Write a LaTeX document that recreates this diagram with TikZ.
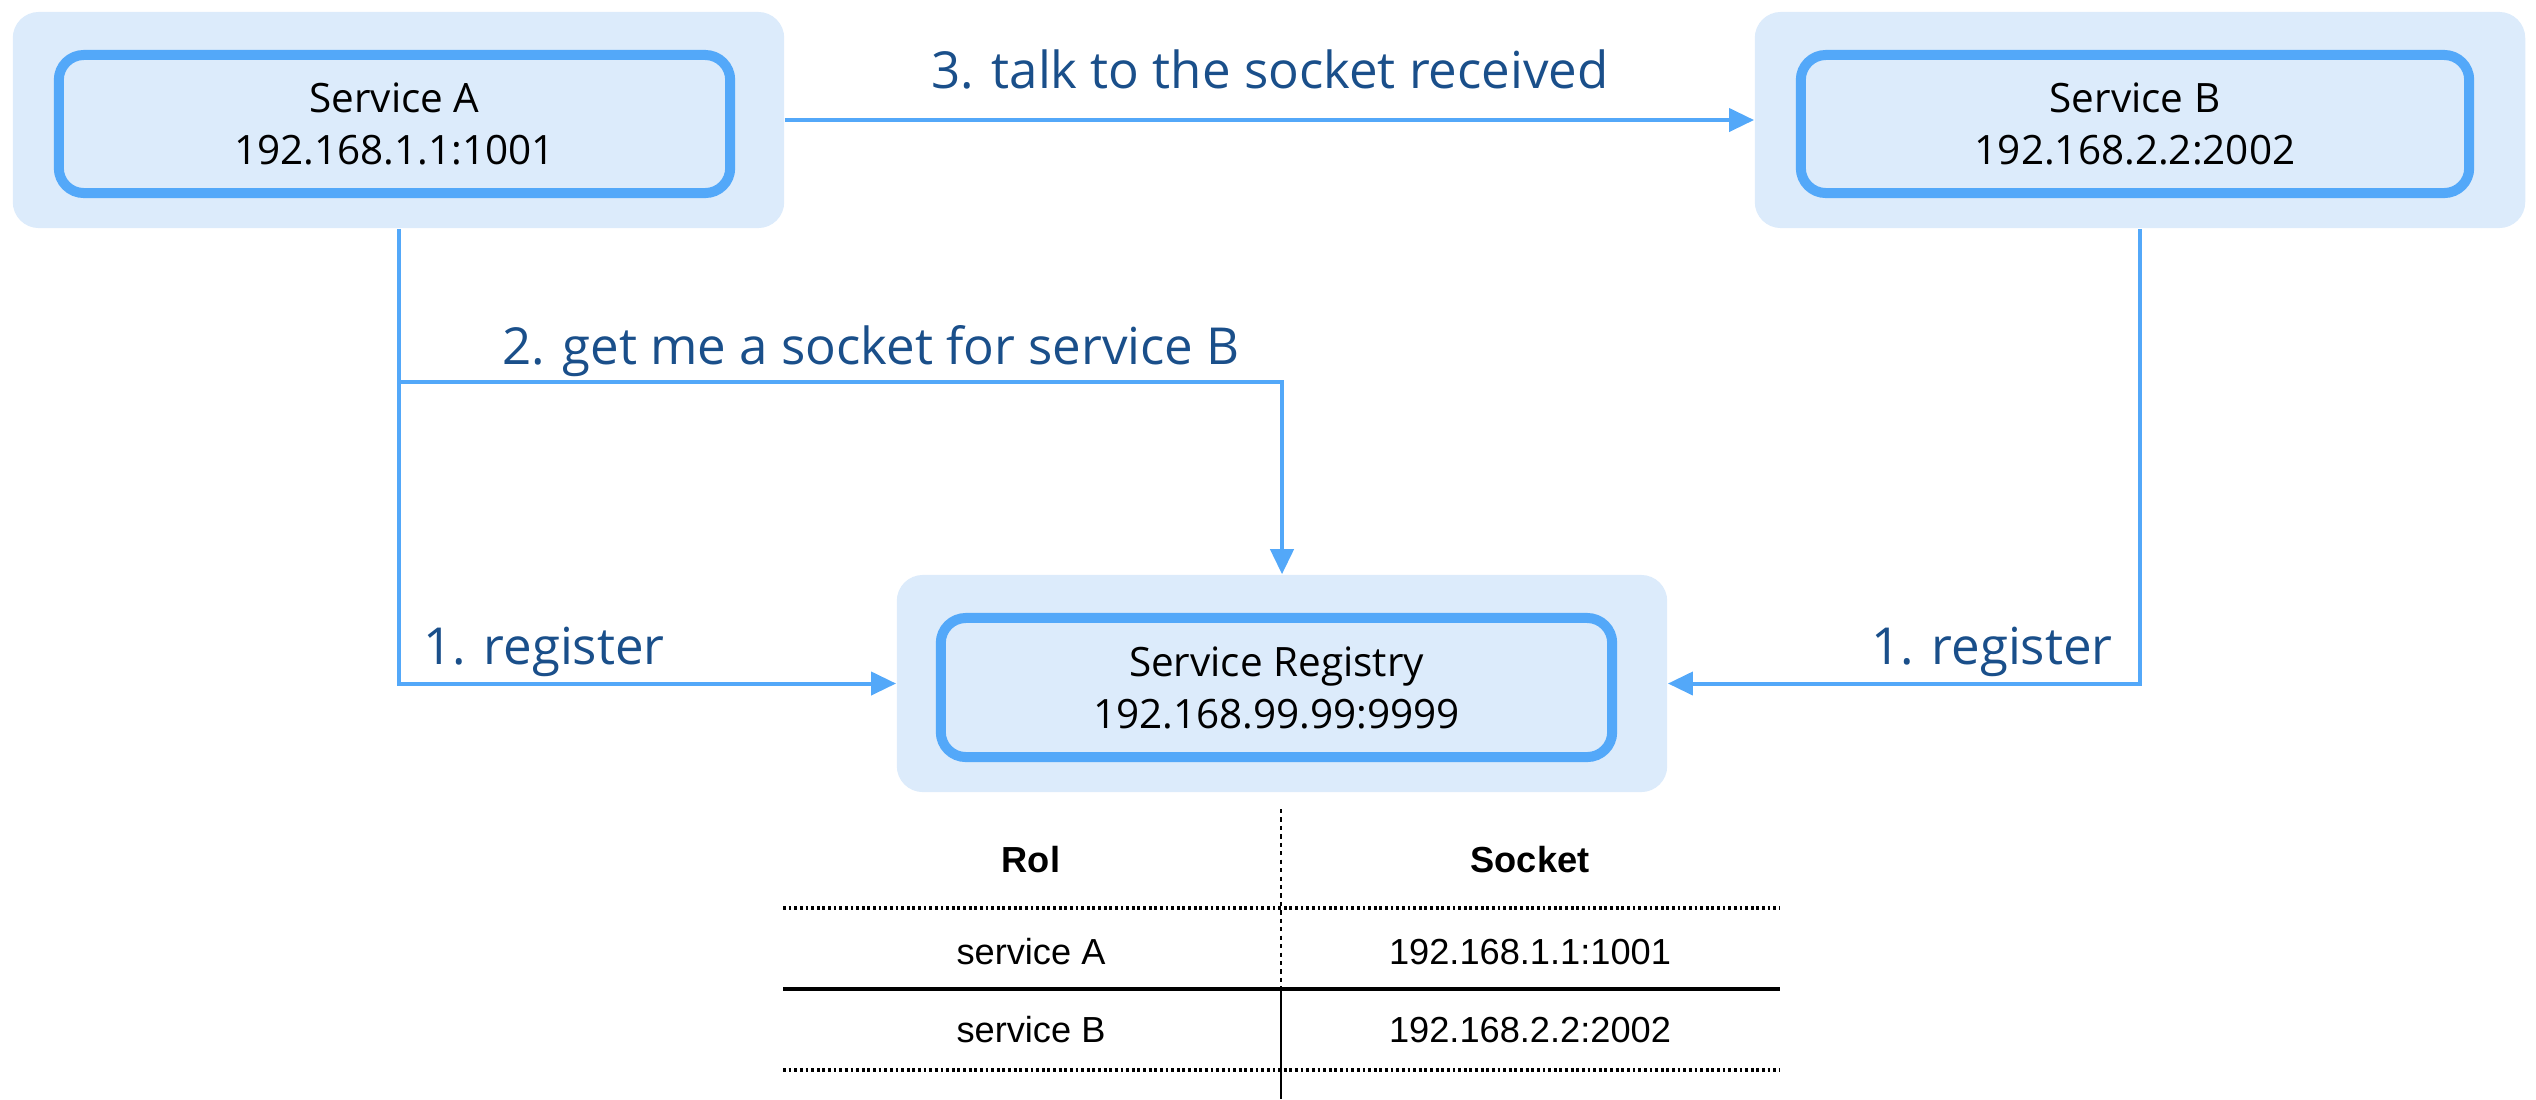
\documentclass[tikz,border=0pt]{standalone}
\usepackage{fontspec}
\setmainfont{Open Sans}
\newfontfamily\tabfont{Liberation Sans}
\usetikzlibrary{arrows.meta}
\definecolor{boxfill}{HTML}{DCEBFB}
\definecolor{linkblue}{HTML}{53A8F9}
\definecolor{labelblue}{HTML}{1A4F8A}
\tikzset{
  outerbox/.style={rectangle, rounded corners=0.26cm, fill=boxfill, draw=none, inner sep=0pt},
  innerbox/.style={rectangle, rounded corners=0.25cm, fill=boxfill, draw=linkblue, line width=0.1cm,
    align=center, inner sep=0pt, font=\fontsize{11.5}{14.8}\selectfont},
  link/.style={draw=linkblue, line width=0.04cm, -{Triangle[length=0.25cm,width=0.23cm]}},
  linklabel/.style={text=labelblue, font=\fontsize{14.5}{17}\selectfont, inner sep=0pt},
  tabtext/.style={font=\tabfont\fontsize{10.3}{12}\selectfont, inner sep=0pt},
  tabhead/.style={font=\tabfont\bfseries\fontsize{10.3}{12}\selectfont, inner sep=0pt},
}
\begin{document}
\begin{tikzpicture}[x=0.01cm, y=-0.01cm]
\useasboundingbox (0,0) rectangle (2536,1099);

% outer boxes
\node[outerbox, minimum width=7.71cm, minimum height=2.16cm] (A) at (398.5,120) {};
\node[outerbox, minimum width=7.70cm, minimum height=2.16cm] (B) at (2140,120) {};
\node[outerbox, minimum width=7.70cm, minimum height=2.17cm] (R) at (1282,683.5) {};

% inner boxes
\node[innerbox, minimum width=6.71cm, minimum height=1.38cm] (Ai) at (394.5,124) {Service A\\192.168.1.1:1001};
\node[innerbox, minimum width=6.68cm, minimum height=1.38cm] (Bi) at (2135,124) {Service B\\192.168.2.2:2002};
\node[innerbox, minimum width=6.71cm, minimum height=1.39cm] (Ri) at (1276.5,687.5) {Service Registry\\192.168.99.99:9999};

% connectors
\draw[link] (A.east) -- (B.west);
\draw[link] (A.south) -- (A.south |- R.west) -- (R.west);
\coordinate (br) at (398.5,382);
\draw[link] (br) -- (br -| R.north) -- (R.north);
\draw[link] (B.south) -- (B.south |- R.east) -- (R.east);

% labels
\node[linklabel] (l3) at (1270,69) {3. talk to the socket received};
\node[linklabel] (l2) at (871,351) {2. get me a socket for service B};
\node[linklabel] (l1a) at (544,652) {1. register};
\node[linklabel] (l1b) at (1992,652) {1. register};

% table
\draw[black, line width=0.7pt, dash pattern=on 1.2pt off 1.2pt] (1281,809) -- (1281,989);
\draw[black, line width=0.8pt] (1281,989) -- (1281,1099);
\draw[black, line width=1pt, dash pattern=on 0.8pt off 0.8pt] (783,908) -- (1780,908);
\draw[black, line width=1pt] (783,989) -- (1780,989);
\draw[black, line width=1pt, dash pattern=on 0.8pt off 0.8pt] (783,1070) -- (1780,1070);

\node[tabhead] (h1) at (1031,860) {Rol};
\node[tabhead] (h2) at (1530,860) {Socket};
\node[tabtext] (c11) at (1031,952) {service A};
\node[tabtext] (c12) at (1530,952) {192.168.1.1:1001};
\node[tabtext] (c21) at (1031,1030) {service B};
\node[tabtext] (c22) at (1530,1030) {192.168.2.2:2002};
\end{tikzpicture}
\end{document}
